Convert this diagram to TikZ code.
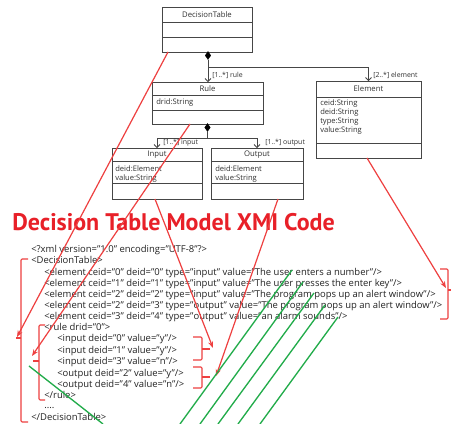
\documentclass[tikz,border=0pt]{standalone}
\usepackage{fontspec}
\setmainfont{Open Sans}
\newfontfamily\titlefont{PT Sans}
\usetikzlibrary{arrows.meta,shapes.geometric}
\definecolor{redline}{RGB}{238,64,64}
\definecolor{redtitle}{RGB}{232,32,40}
\definecolor{greenline}{RGB}{34,172,74}
\definecolor{umlline}{RGB}{70,70,70}
\definecolor{umltext}{RGB}{50,50,50}
\definecolor{codetext}{RGB}{35,35,35}
\begin{document}
\begin{tikzpicture}[x=0.75pt,y=-0.75pt,
  classbox/.style={draw=umlline, line width=0.6pt, fill=white, anchor=north west, inner sep=0pt, outer sep=0pt},
  compline/.style={draw=umlline, line width=0.6pt},
  umltitle/.style={font=\fontsize{5.8}{6.8}\selectfont, text=umltext, inner sep=0pt},
  umlattr/.style={font=\fontsize{5.7}{6.8}\selectfont, text=umltext, inner sep=0pt, anchor=base west},
  multlabel/.style={font=\fontsize{5.2}{6.2}\selectfont, text=umltext, inner sep=0pt, anchor=base west},
  assoc/.style={draw=umlline, line width=0.6pt},
  assocarrow/.style={assoc, -{Straight Barb[length=2.2pt,width=4.5pt]}},
  compdiamond/.style={diamond, fill=black, draw=black, line width=0.3pt, inner sep=0pt, minimum width=4.2pt, minimum height=6pt},
  codeline/.style={font=\fontsize{7.1}{8.5}\selectfont, text=codetext, inner sep=0pt, anchor=base west},
  mapping/.style={draw=redline, line width=0.9pt, -{Stealth[length=5pt,width=3.8pt]}},
  bracket/.style={draw=redline, line width=0.8pt, rounded corners=0.8pt},
  hatch/.style={draw=greenline, line width=1pt},
]
\useasboundingbox[fill=white] (0,0) rectangle (451,424);

% ---------------- UML classes ----------------
\node[classbox, minimum width=67.5pt, minimum height=33.75pt] (dt) at (162,7) {};
\draw[compline] (162,22) -- (252,22) (162,37) -- (252,37);
\node[umltitle] (dttitle) at (207,14.5) {DecisionTable};

\node[classbox, minimum width=83.25pt, minimum height=31.5pt] (rule) at (152,82) {};
\draw[compline] (152,95) -- (263,95) (152,110) -- (263,110);
\node[umltitle] (ruletitle) at (207.5,88.5) {Rule};
\node[umlattr] (ruleattr) at (156,104.5) {drid:String};

\node[classbox, minimum width=67.5pt, minimum height=38.25pt] (input) at (112,148) {};
\draw[compline] (112,161) -- (202,161) (112,183) -- (202,183);
\node[umltitle] (inputtitle) at (157,154.5) {Input};
\node[umlattr] (inputa1) at (115,171.5) {deid:Element};
\node[umlattr] (inputa2) at (115,180.5) {value:String};

\node[classbox, minimum width=69pt, minimum height=38.25pt] (output) at (211,148) {};
\draw[compline] (211,161) -- (303,161) (211,183) -- (303,183);
\node[umltitle] (outputtitle) at (257,154.5) {Output};
\node[umlattr] (outputa1) at (215,171.5) {deid:Element};
\node[umlattr] (outputa2) at (215,180.5) {value:String};

\node[classbox, minimum width=78.75pt, minimum height=57.75pt] (element) at (316,81) {};
\draw[compline] (316,97) -- (421,97) (316,143) -- (421,143);
\node[umltitle] (elementtitle) at (368.5,88.5) {Element};
\node[umlattr] (ela1) at (320,105.5) {ceid:String};
\node[umlattr] (ela2) at (320,114.5) {deid:String};
\node[umlattr] (ela3) at (320,123.5) {type:String};
\node[umlattr] (ela4) at (320,132.5) {value:String};

% ---------------- associations ----------------
\node[compdiamond] (dtd) at (208,55.5) {};
\coordinate (dtbranch) at (208,67);
\draw[assocarrow] (dtd.south) -- (dtd.south |- rule.north);
\draw[assocarrow] (dtbranch) -| (element.north);
\node[multlabel] (lrule) at (212,77.5) {[1..*] rule};
\node[multlabel] (lelement) at (373,78) {[2..*] element};

\node[compdiamond] (rdd) at (207.5,127.5) {};
\coordinate (rbranch) at (207.5,138);
\draw[assoc] (rdd.south) -- (rbranch);
\draw[assocarrow] (rbranch) -| (input.north);
\draw[assocarrow] (rbranch) -| (output.north);
\node[multlabel] (linput) at (163,145) {[1..*] input};
\node[multlabel] (loutput) at (265,145) {[1..*] output};

% ---------------- title ----------------
\node[font=\titlefont\fontsize{18}{22}\selectfont\bfseries, text=redtitle, anchor=base west, inner sep=0pt] (title) at (12,231) {Decision Table Model XMI Code};

% ---------------- XMI code ----------------
\node[codeline] (c1)  at (31,252.5) {<?xml version=”1.0” encoding=”UTF-8”?>};
\node[codeline] (c2)  at (31,264)   {<DecisionTable>};
\node[codeline] (c3)  at (44,275.5) {<element ceid=”0” deid=”0” type=”input” value=”The user enters a number”/>};
\node[codeline] (c4)  at (44,286.5) {<element ceid=”1” deid=”1” type=”input” value=”The user presses the enter key”/>};
\node[codeline] (c5)  at (44,297.5) {<element ceid=”2” deid=”2” type=”input” value=”The program pops up an alert window”/>};
\node[codeline] (c6)  at (44,308.5) {<element ceid=”2” deid=”3” type=”output” value=”The program pops up an alert window”/>};
\node[codeline] (c7)  at (44,319.5) {<element ceid=”3” deid=”4” type=”output” value=”an alarm sounds”/>};
\node[codeline] (c8)  at (44,330.5) {<rule drid=”0”>};
\node[codeline] (c9)  at (57,342)   {<input deid=”0” value=”y”/>};
\node[codeline] (c10) at (57,353.5) {<input deid=”1” value=”y”/>};
\node[codeline] (c11) at (57,365)   {<input deid=”3” value=”n”/>};
\node[codeline] (c12) at (57,376.5) {<output deid=”2” value=”y”/>};
\node[codeline] (c13) at (57,387.5) {<output deid=”4” value=”n”/>};
\node[codeline] (c14) at (44,398.5) {</rule>};
\node[codeline] (c15) at (44,409)   {....};
\node[codeline] (c16) at (31,420.5) {</DecisionTable>};

% ---------------- brackets ----------------
\coordinate (bigtip) at (16,338);
\draw[bracket] (28,259) -- (21,259) -- (21,422) -- (28,422);
\draw[bracket] (21,338) -- (bigtip);
\coordinate (ruletip) at (33,361);
\draw[bracket] (45,325) -- (39,325) -- (39,400) -- (45,400);
\draw[bracket] (39,361) -- (ruletip);
\coordinate (intip) at (210,349);
\draw[bracket] (193,337) -- (202,337) -- (202,360) -- (193,360);
\draw[bracket] (202,349) -- (intip);
\coordinate (outtip) at (210,377);
\draw[bracket] (193,367) -- (202,367) -- (202,388) -- (193,388);
\draw[bracket] (202,377) -- (outtip);
\coordinate (eltip) at (451,290);
\draw[bracket] (440,269) -- (448,269) -- (448,319) -- (440,319);
\draw[bracket] (448,290) -- (eltip);

% ---------------- mapping arrows ----------------
\coordinate (dtfrom) at (168,52);
\coordinate (rulefrom) at (190,124);
\coordinate (infrom) at (155,199);
\coordinate (outfrom) at (278,199);
\coordinate (elfrom) at (367,158);
\coordinate (dtto) at (17,337);
\coordinate (ruleto) at (32,356);
\coordinate (into) at (213,348);
\coordinate (outto) at (216,376);
\coordinate (elto) at (446,288);
\draw[mapping] (dtfrom) -- (dtto);
\draw[mapping] (rulefrom) -- (ruleto);
\draw[mapping] (infrom) -- (into);
\draw[mapping] (outfrom) -- (outto);
\draw[mapping] (elfrom) -- (elto);

% ---------------- green lines ----------------
\coordinate (g1a) at (180,424); \coordinate (g1b) at (292,270);
\coordinate (g2a) at (200,424); \coordinate (g2b) at (303,282);
\coordinate (g3a) at (218,424); \coordinate (g3b) at (314,293);
\coordinate (g4a) at (238,424); \coordinate (g4b) at (325,305);
\coordinate (g5a) at (260,424); \coordinate (g5b) at (338,317);
\coordinate (g6a) at (29,366);  \coordinate (g6b) at (103,424);
\draw[hatch] (g1a) -- (g1b);
\draw[hatch] (g2a) -- (g2b);
\draw[hatch] (g3a) -- (g3b);
\draw[hatch] (g4a) -- (g4b);
\draw[hatch] (g5a) -- (g5b);
\draw[hatch] (g6a) -- (g6b);
\end{tikzpicture}
\end{document}
